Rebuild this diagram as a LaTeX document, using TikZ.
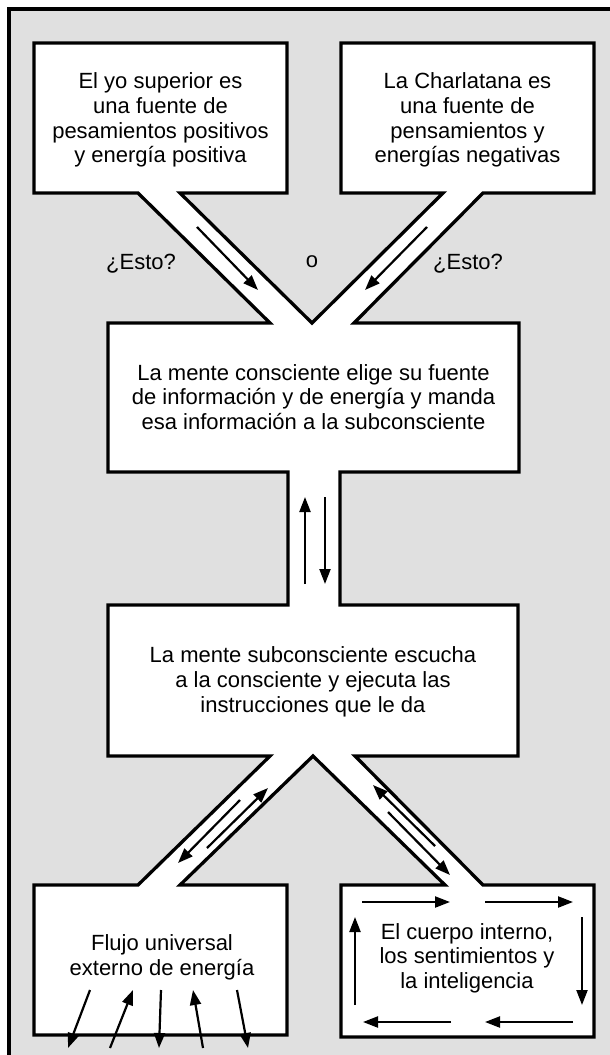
\documentclass[tikz,border=0pt]{standalone}
\usepackage{fontspec}
\setmainfont{Liberation Sans}
\usetikzlibrary{arrows.meta}
\definecolor{bg}{HTML}{E0E0E0}
\begin{document}
\begin{tikzpicture}[x=1pt,y=-1pt,
  outline/.style={line width=3.3pt, line join=miter, draw=black, fill=white},
  flow/.style={line width=2.2pt, -{Triangle[length=15pt,width=11pt]}},
  lbl/.style={align=center, font=\fontsize{22}{24.7}\selectfont, inner sep=0pt}]
\useasboundingbox (0,0) rectangle (610,1055);
\begin{scope}
  \clip (0,0) rectangle (610,1055);
  \draw[line width=3.3pt, fill=bg] (9,9) rectangle (650,1090);
\end{scope}
% white region: boxes and channels as one outline
\path[outline]
  (34,43) -- (287,43) -- (287,193) -- (180,193) -- (312,323) -- (443,193)
  -- (341,193) -- (341,43) -- (594,43) -- (594,193) -- (483,193) -- (354,323)
  -- (519,323) -- (519,472) -- (340,472) -- (340,605) -- (518,605) -- (518,756)
  -- (355,756) -- (483,885) -- (594,885) -- (594,1037) -- (341,1037) -- (341,885)
  -- (445,885) -- (313,756) -- (180,885) -- (287,885) -- (287,1035) -- (34,1035)
  -- (34,885) -- (138,885) -- (270,756) -- (108,756) -- (108,605) -- (288,605)
  -- (288,472) -- (108,472) -- (108,323) -- (270,323) -- (138,193) -- (34,193) -- cycle;
% texts
\node[lbl] (tl) at (160.5,120) {El yo superior es\\una fuente de\\pesamientos positivos\\y energía positiva};
\node[lbl] (tr) at (467.5,120) {La Charlatana es\\una fuente de\\pensamientos y\\energías negativas};
\node[lbl] (m1) at (313.5,397) {La mente consciente elige su fuente\\de información y de energía y manda\\esa información a la subconsciente};
\node[lbl] (m2) at (313,682) {La mente subconsciente escucha\\a la consciente y ejecuta las\\instrucciones que le da};
\node[lbl] (bl) at (162,957) {Flujo universal\\externo de energía};
\node[lbl] (br) at (467,958) {El cuerpo interno,\\los sentimientos y\\la inteligencia};
\node[lbl] (q1) at (141,264) {¿Esto?};
\node[lbl] (o) at (312,262) {o};
\node[lbl] (q2) at (468,264) {¿Esto?};
% arrows in channels
\draw[flow] (197,227) -- (258,290);
\draw[flow] (427,227) -- (365,290);
\draw[flow] (305,584) -- (305,497);
\draw[flow] (325,497) -- (325,584);
\draw[flow] (240,800) -- (178,863);
\draw[flow] (207,848) -- (268,788);
\draw[flow] (435,846) -- (373,785);
\draw[flow] (388,812) -- (450,875);
% circulation inside body box
\draw[flow] (362,902) -- (450,902);
\draw[flow] (485,902) -- (573,902);
\draw[flow] (582,917) -- (582,1005);
\draw[flow] (573,1022) -- (485,1022);
\draw[flow] (451,1022) -- (363,1022);
\draw[flow] (355,1005) -- (355,917);
% external flow arrows
\draw[flow] (90,990) -- (68,1048);
\draw[flow] (110,1048) -- (133,990);
\draw[flow] (161,990) -- (159,1048);
\draw[flow] (203,1048) -- (193,990);
\draw[flow] (237,990) -- (248,1048);
\end{tikzpicture}
\end{document}
